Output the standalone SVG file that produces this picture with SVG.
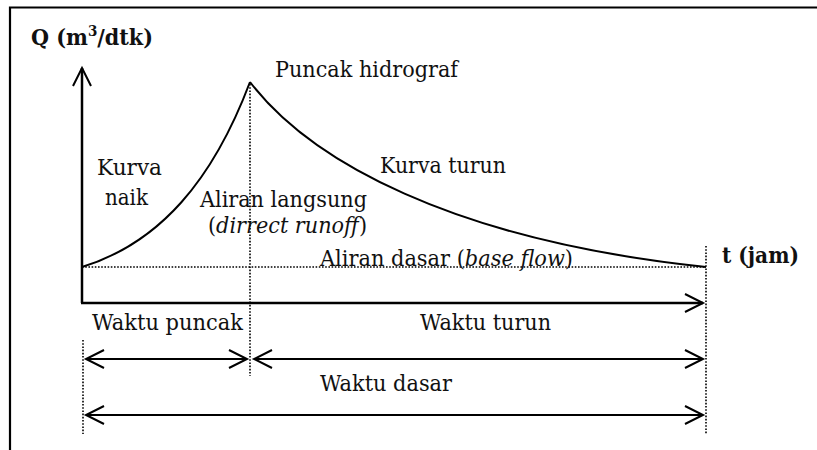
<svg xmlns="http://www.w3.org/2000/svg" width="817" height="450" viewBox="0 0 817 450">
  <style>
    text { font-family: 'DejaVu Serif', 'Liberation Serif', serif; font-size: 23px; fill: #111; }
    .b { font-weight: bold; }
    .i { font-style: italic; }
    .solid { stroke: #000; stroke-width: 2; fill: none; }
    .axis { stroke: #000; stroke-width: 2.5; fill: none; }
    .dot { stroke: #000; stroke-width: 1.6; stroke-dasharray: 1.6 1.6; fill: none; }
  </style>
  <defs>
    <marker id="open" markerUnits="userSpaceOnUse" markerWidth="24" markerHeight="24" viewBox="-20 -12 24 24" refX="0" refY="0" orient="auto-start-reverse">
      <path d="M -18 -9 L 0 0 L -18 9" fill="none" stroke="#000" stroke-width="2"/>
    </marker>
  </defs>
  <rect width="817" height="450" fill="#fff"/>

  <!-- outer frame (top and left edges only visible) -->
  <path d="M 10 450 L 10 7.5 L 817 7.5" fill="none" stroke="#000" stroke-width="2.2"/>

  <g id="connectors">
    <!-- axes -->
    <path class="axis" d="M 82 303 L 82 68" marker-end="url(#open)"/>
    <path class="axis" d="M 81 303 L 703 303" marker-end="url(#open)"/>
    <!-- guide lines -->
    <path class="dot" d="M 82 267 L 706 267"/>
    <path class="dot" d="M 250 84 L 250 376"/>
    <path class="dot" d="M 706 246 L 706 434"/>
    <path class="dot" d="M 83 340 L 83 434"/>
    <!-- hydrograph -->
    <path class="solid" d="M 82 267 C 160 243 213 180 250 82"/>
    <path class="solid" d="M 250 82 C 310 160 450 240 706 267"/>
    <!-- time spans -->
    <path class="solid" d="M 86 359 L 247 359" marker-start="url(#open)" marker-end="url(#open)"/>
    <path class="solid" d="M 254 359 L 703 359" marker-start="url(#open)" marker-end="url(#open)"/>
    <path class="solid" d="M 86 415 L 703 415" marker-start="url(#open)" marker-end="url(#open)"/>
  </g>

  <g id="label-q"><text class="b" x="31" y="45" textLength="122" lengthAdjust="spacingAndGlyphs">Q (m<tspan font-size="15" dy="-9">3</tspan><tspan dy="9">/dtk)</tspan></text></g>
  <g id="label-peak"><text x="275" y="77" textLength="183" lengthAdjust="spacingAndGlyphs">Puncak hidrograf</text></g>
  <g id="label-rise">
    <text x="97" y="175" textLength="65" lengthAdjust="spacingAndGlyphs">Kurva</text>
    <text x="105" y="205" textLength="43" lengthAdjust="spacingAndGlyphs">naik</text>
  </g>
  <g id="label-fall"><text x="380" y="173" textLength="126" lengthAdjust="spacingAndGlyphs">Kurva turun</text></g>
  <g id="label-direct">
    <text x="200" y="207" textLength="167" lengthAdjust="spacingAndGlyphs">Aliran langsung</text>
    <text x="208" y="233" textLength="159" lengthAdjust="spacingAndGlyphs">(<tspan class="i">dirrect runoff</tspan>)</text>
  </g>
  <g id="label-base"><text x="320" y="266" textLength="253" lengthAdjust="spacingAndGlyphs">Aliran dasar (<tspan class="i">base flow</tspan>)</text></g>
  <g id="label-t"><text class="b" x="722" y="263" textLength="77" lengthAdjust="spacingAndGlyphs">t (jam)</text></g>
  <g id="label-tp"><text x="92" y="330" textLength="151" lengthAdjust="spacingAndGlyphs">Waktu puncak</text></g>
  <g id="label-tr"><text x="420" y="330" textLength="131" lengthAdjust="spacingAndGlyphs">Waktu turun</text></g>
  <g id="label-tb"><text x="320" y="391" textLength="132" lengthAdjust="spacingAndGlyphs">Waktu dasar</text></g>
</svg>
